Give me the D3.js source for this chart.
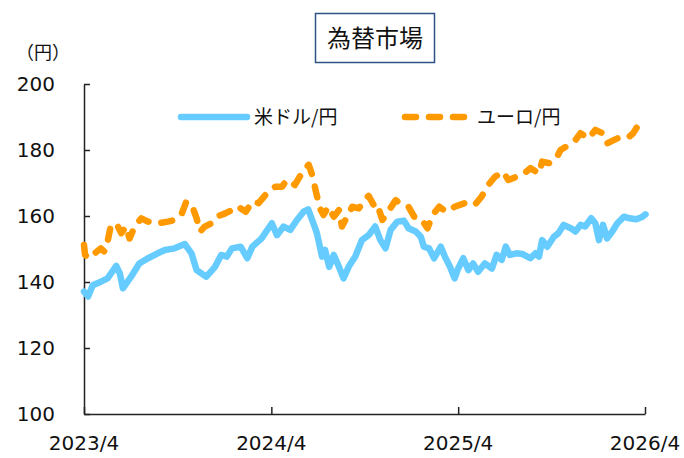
<!DOCTYPE html>
<html>
<head>
<meta charset="utf-8">
<script src="https://cdn.jsdelivr.net/npm/d3@7"></script>
<style>
  body { margin: 0; background: #fff; }
  svg text { fill: #111; }
</style>
</head>
<body>
<div id="chart"></div>
<script>
// 米ドル/円 [date, value]
const usdJpy = [
  ['2023-04-01', 137.1], ['2023-04-09', 135.6], ['2023-04-18', 139.0], ['2023-05-04', 140.1],
  ['2023-05-17', 141.1], ['2023-06-03', 144.9], ['2023-06-10', 142.6], ['2023-06-16', 138.1],
  ['2023-07-02', 141.6], ['2023-07-18', 145.6], ['2023-08-04', 147.2], ['2023-08-23', 148.7],
  ['2023-09-06', 149.7], ['2023-09-25', 150.2], ['2023-10-15', 151.5], ['2023-10-28', 148.7],
  ['2023-11-07', 143.6], ['2023-11-26', 141.6], ['2023-12-13', 144.6], ['2023-12-25', 148.2],
  ['2024-01-05', 147.7], ['2024-01-15', 150.2], ['2024-02-01', 150.7], ['2024-02-14', 147.2],
  ['2024-02-24', 150.7], ['2024-03-13', 153.2], ['2024-04-02', 157.8], ['2024-04-12', 154.2],
  ['2024-04-25', 156.8], ['2024-05-08', 155.8], ['2024-05-21', 158.8], ['2024-06-03', 161.3],
  ['2024-06-12', 162.0], ['2024-06-21', 158.3], ['2024-06-29', 154.8], ['2024-07-09', 147.7],
  ['2024-07-15', 149.7], ['2024-07-23', 144.6], ['2024-08-01', 148.2], ['2024-08-11', 144.6],
  ['2024-08-20', 141.1], ['2024-08-30', 144.6], ['2024-09-12', 147.7], ['2024-09-25', 152.7],
  ['2024-10-08', 154.2], ['2024-10-21', 156.8], ['2024-10-31', 152.7], ['2024-11-10', 150.2],
  ['2024-11-20', 155.8], ['2024-12-03', 158.3], ['2024-12-16', 158.6], ['2024-12-25', 156.3],
  ['2025-01-08', 155.3], ['2025-01-18', 153.7], ['2025-01-24', 150.7], ['2025-02-03', 150.2],
  ['2025-02-13', 147.2], ['2025-02-26', 150.7], ['2025-03-06', 147.7], ['2025-03-16', 144.6],
  ['2025-03-25', 141.1], ['2025-04-01', 144.1], ['2025-04-11', 147.2], ['2025-04-21', 143.6],
  ['2025-04-30', 145.6], ['2025-05-10', 143.1], ['2025-05-23', 145.6], ['2025-06-06', 144.1],
  ['2025-06-15', 148.2], ['2025-06-25', 146.7], ['2025-07-03', 150.7], ['2025-07-11', 148.2],
  ['2025-07-24', 148.7], ['2025-08-04', 148.5], ['2025-08-20', 147.2], ['2025-08-30', 148.7],
  ['2025-09-06', 147.7], ['2025-09-12', 152.7], ['2025-09-22', 150.7], ['2025-10-05', 153.7],
  ['2025-10-14', 154.8], ['2025-10-24', 157.3], ['2025-11-07', 156.3], ['2025-11-16', 155.3],
  ['2025-11-26', 157.3], ['2025-12-05', 156.8], ['2025-12-17', 159.3], ['2025-12-25', 157.8],
  ['2026-01-01', 152.7], ['2026-01-09', 157.3], ['2026-01-17', 153.2], ['2026-01-27', 155.3],
  ['2026-02-06', 157.8], ['2026-02-19', 159.8], ['2026-03-02', 159.3], ['2026-03-15', 159.0],
  ['2026-03-25', 159.6], ['2026-04-02', 160.5]
];
// ユーロ/円 [date, value]
const eurJpy = [
  ['2023-04-01', 151.2], ['2023-04-03', 148.2], ['2023-04-12', 147.2], ['2023-04-22', 148.7],
  ['2023-05-04', 150.2], ['2023-05-11', 149.2], ['2023-05-17', 152.2], ['2023-05-23', 156.8],
  ['2023-06-03', 157.8], ['2023-06-13', 154.8], ['2023-06-22', 156.8], ['2023-06-29', 153.2],
  ['2023-07-09', 156.8], ['2023-07-22', 159.3], ['2023-08-04', 158.3], ['2023-08-23', 157.8],
  ['2023-09-12', 158.3], ['2023-09-25', 158.8], ['2023-10-08', 160.3], ['2023-10-18', 164.4],
  ['2023-10-31', 162.3], ['2023-11-07', 159.3], ['2023-11-14', 155.3], ['2023-11-23', 156.8],
  ['2023-12-06', 157.8], ['2023-12-16', 159.8], ['2024-01-02', 160.8], ['2024-01-15', 161.8],
  ['2024-01-25', 163.0], ['2024-02-11', 161.3], ['2024-02-24', 164.4], ['2024-03-07', 163.9],
  ['2024-03-26', 167.4], ['2024-04-09', 168.9], ['2024-04-22', 168.9], ['2024-05-01', 170.9],
  ['2024-05-17', 169.4], ['2024-06-03', 173.9], ['2024-06-13', 175.5], ['2024-06-21', 171.9],
  ['2024-06-27', 167.4], ['2024-07-05', 162.3], ['2024-07-12', 160.3], ['2024-07-21', 162.8],
  ['2024-08-01', 159.8], ['2024-08-11', 161.8], ['2024-08-17', 156.8], ['2024-08-27', 159.8],
  ['2024-09-06', 162.8], ['2024-09-19', 162.3], ['2024-09-29', 164.8], ['2024-10-08', 166.1],
  ['2024-10-18', 163.3], ['2024-10-24', 163.9], ['2024-11-04', 158.8], ['2024-11-17', 161.8],
  ['2024-11-30', 164.8], ['2024-12-13', 163.3], ['2024-12-25', 162.8], ['2025-01-05', 159.8],
  ['2025-01-18', 159.3], ['2025-01-31', 156.3], ['2025-02-10', 160.3], ['2025-02-23', 162.8],
  ['2025-03-09', 161.3], ['2025-03-25', 162.8], ['2025-04-14', 163.9], ['2025-05-03', 163.3],
  ['2025-05-17', 165.9], ['2025-05-27', 168.9], ['2025-06-12', 171.9], ['2025-06-28', 173.4],
  ['2025-07-08', 170.9], ['2025-07-24', 171.9], ['2025-08-04', 172.4], ['2025-08-20', 174.5],
  ['2025-09-06', 172.9], ['2025-09-12', 176.5], ['2025-09-25', 176.0], ['2025-10-08', 177.0],
  ['2025-10-18', 180.0], ['2025-11-03', 181.5], ['2025-11-16', 183.0], ['2025-11-26', 185.1],
  ['2025-12-12', 183.5], ['2025-12-25', 186.1], ['2026-01-08', 185.1], ['2026-01-17', 182.0],
  ['2026-01-30', 183.0], ['2026-02-13', 184.0], ['2026-02-28', 183.9], ['2026-03-09', 185.1],
  ['2026-03-20', 187.9], ['2026-03-28', 187.1]
];
const xTicks = ['2023-04-01', '2024-04-01', '2025-04-01', '2026-04-01'];
const xTickLabels = ['2023/4', '2024/4', '2025/4', '2026/4'];
const yTicks = [100, 120, 140, 160, 180, 200];

const width = 684;
const height = 458;
const margin = { top: 84, right: 39, bottom: 44, left: 84 };
const parse = d3.timeParse('%Y-%m-%d');
const numFont = '"DejaVu Sans", Verdana, sans-serif';
const jpFont = '"Noto Sans CJK JP", "Noto Sans", sans-serif';

const svg = d3.select('#chart').append('svg')
  .attr('width', width).attr('height', height)
  .attr('viewBox', [0, 0, width, height]);

const xScale = d3.scaleTime()
  .domain([parse(xTicks[0]), parse(xTicks[xTicks.length - 1])])
  .range([margin.left, width - margin.right]);
const yScale = d3.scaleLinear()
  .domain([100, 200])
  .range([height - margin.bottom, margin.top]);

// axes
const yAxisG = svg.append('g')
  .attr('transform', `translate(${margin.left},0)`)
  .call(d3.axisRight(yScale).tickValues(yTicks).tickSize(6).tickSizeOuter(0).tickFormat(''));
yAxisG.select('.domain').attr('stroke', '#222').attr('stroke-width', 1.5);
yAxisG.selectAll('.tick line').attr('stroke', '#222').attr('stroke-width', 1.5);

const xAxisG = svg.append('g')
  .attr('transform', `translate(0,${height - margin.bottom})`)
  .call(d3.axisTop(xScale).tickValues(xTicks.map(parse)).tickSize(7).tickSizeOuter(0).tickFormat(''));
xAxisG.select('.domain').attr('stroke', '#222').attr('stroke-width', 1.5);
xAxisG.selectAll('.tick line').attr('stroke', '#222').attr('stroke-width', 1.5);

svg.append('g').selectAll('text')
  .data(yTicks)
  .join('text')
  .attr('x', 55)
  .attr('y', d => yScale(d))
  .attr('dy', '0.36em')
  .attr('text-anchor', 'end')
  .attr('font-family', numFont)
  .attr('font-size', 20)
  .text(d => d);

svg.append('g').selectAll('text')
  .data(xTicks)
  .join('text')
  .attr('x', d => xScale(parse(d)))
  .attr('y', 450)
  .attr('text-anchor', 'middle')
  .attr('font-family', numFont)
  .attr('font-size', 20)
  .text((d, i) => xTickLabels[i]);

svg.append('text')
  .attr('x', 43).attr('y', 59)
  .attr('text-anchor', 'middle')
  .attr('font-family', jpFont)
  .attr('font-size', 18)
  .text('（円）');

// title box
svg.append('rect')
  .attr('x', 315.5).attr('y', 13.5).attr('width', 119).attr('height', 49)
  .attr('fill', '#fff').attr('stroke', '#2f5284').attr('stroke-width', 1.5);
svg.append('text')
  .attr('x', 375).attr('y', 47)
  .attr('text-anchor', 'middle')
  .attr('font-family', jpFont)
  .attr('font-size', 24)
  .text('為替市場');

// lines
const line = d3.line()
  .x(d => xScale(parse(d[0])))
  .y(d => yScale(d[1]))
  .curve(d3.curveLinear);

svg.append('path')
  .datum(usdJpy)
  .attr('d', line)
  .attr('fill', 'none')
  .attr('stroke', '#66ccff')
  .attr('stroke-width', 6.5)
  .attr('stroke-linejoin', 'round')
  .attr('stroke-linecap', 'round');

svg.append('path')
  .datum(eurJpy)
  .attr('d', line)
  .attr('fill', 'none')
  .attr('stroke', '#ff9900')
  .attr('stroke-width', 6.5)
  .attr('stroke-dasharray', '11 13')
  .attr('stroke-linejoin', 'round')
  .attr('stroke-linecap', 'round');

// legend
const legend = svg.append('g');
legend.append('line')
  .attr('x1', 181).attr('x2', 247).attr('y1', 117).attr('y2', 117)
  .attr('stroke', '#66ccff').attr('stroke-width', 6.5).attr('stroke-linecap', 'round');
legend.append('text')
  .attr('x', 254).attr('y', 124)
  .attr('font-family', jpFont).attr('font-size', 19)
  .text('米ドル/円');
legend.append('line')
  .attr('x1', 405).attr('x2', 465).attr('y1', 117).attr('y2', 117)
  .attr('stroke', '#ff9900').attr('stroke-width', 6.5)
  .attr('stroke-dasharray', '11 13').attr('stroke-linecap', 'round');
legend.append('text')
  .attr('x', 477).attr('y', 124)
  .attr('font-family', jpFont).attr('font-size', 19)
  .text('ユーロ/円');
</script>
</body>
</html>
